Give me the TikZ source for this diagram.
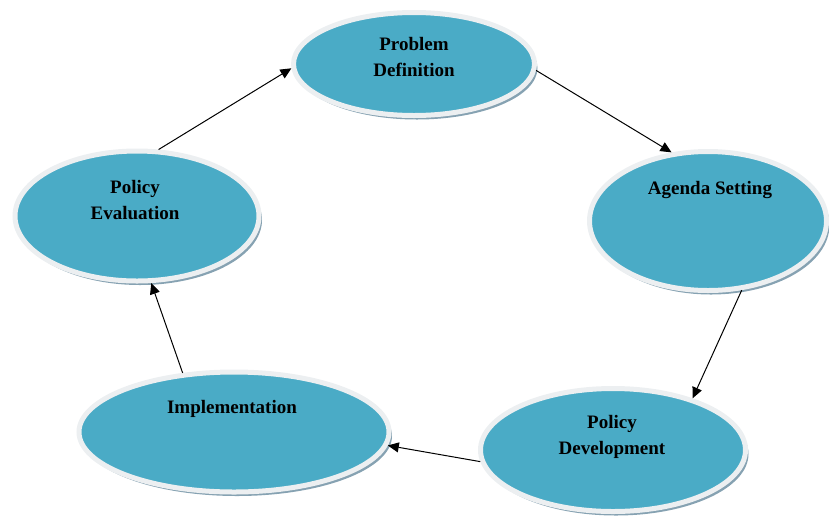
\documentclass[tikz,border=0pt]{standalone}
\usepackage{fontspec}
\setmainfont{Liberation Serif}
\usetikzlibrary{shapes.geometric,shadows,arrows.meta}
\definecolor{stageblue}{HTML}{4AABC6}
\definecolor{rimgrey}{HTML}{ECEFF1}
\definecolor{shadowgrey}{HTML}{86A2B2}
\tikzset{
  stage/.style={ellipse, inner sep=0pt, fill=stageblue, draw=rimgrey, line width=5pt,
    drop shadow={shadow xshift=3pt, shadow yshift=-4pt, fill=shadowgrey, opacity=1}},
  stagetext/.style={font=\fontsize{19}{26}\selectfont\bfseries, align=center, text=black},
  flow/.style={-{Triangle[length=11pt,width=10pt]}, line width=1pt, black}
}
\begin{document}
\begin{tikzpicture}[x=1pt,y=-1pt]
\useasboundingbox (0,0) rectangle (829,520);
\node[stage, minimum width=241pt, minimum height=103pt] (pd) at (414,64) {};
\node[stage, minimum width=237pt, minimum height=139pt] (as) at (708,221) {};
\node[stage, minimum width=265pt, minimum height=123pt] (dev) at (613,450) {};
\node[stage, minimum width=310pt, minimum height=120pt] (imp) at (234,432) {};
\node[stage, minimum width=244pt, minimum height=130pt] (ev) at (137,216) {};
\node[stagetext] (pdt) at (414,57) {Problem\\Definition};
\node[stagetext] (ast) at (710,190) {Agenda Setting};
\node[stagetext] (devt) at (612,437) {Policy\\Development};
\node[stagetext] (impt) at (232,409) {Implementation};
\node[stagetext] (evt) at (135,200) {Policy\\Evaluation};
\draw[flow] (ev.72) -- (pd.182);
\draw[flow] (pd.-3) -- (as.118);
\draw[flow] (as.-64) -- (dev.33);
\draw[flow] (dev.185) -- (imp.-5);
\draw[flow] (imp.131) -- (ev.-78);
\end{tikzpicture}
\end{document}
